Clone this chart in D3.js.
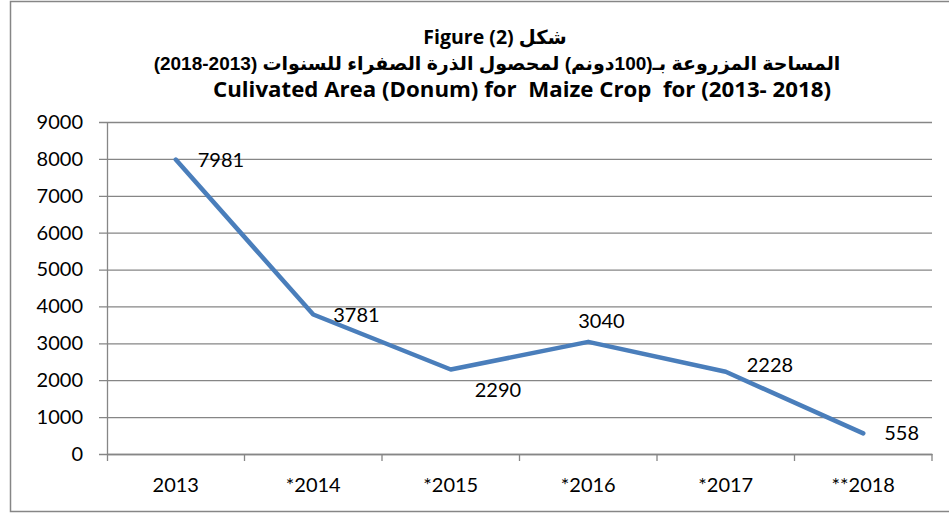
<!DOCTYPE html>
<html>
<head>
<meta charset="utf-8">
<script src="https://cdn.jsdelivr.net/npm/d3@7"></script>
<style>
  body { margin: 0; background: #fff; }
  svg { display: block; }
</style>
</head>
<body>
<div id="chart"></div>
<script>
// data
var years = ["2013", "*2014", "*2015", "*2016", "*2017", "**2018"];
var area = [7981, 3781, 2290, 3040, 2228, 558];
var yTicks = [0, 1000, 2000, 3000, 4000, 5000, 6000, 7000, 8000, 9000];
var titleLines = [
  "شكل (2) Figure",
  "المساحة المزروعة بـ(100دونم) لمحصول الذرة الصفراء للسنوات (2013-2018)",
  "Culivated Area (Donum) for  Maize Crop  for (2013- 2018)"
];

// label nudges (excel labels were moved by hand)
var labelShift = [[22, 0], [20, 0], [24, 20], [-10, -21], [21, -7], [21, 0]];

var svgWidth = 949, svgHeight = 514;
var margin = {top: 122, right: 17, bottom: 60, left: 107};
var width = svgWidth - margin.left - margin.right,
    height = svgHeight - margin.top - margin.bottom;

var font = "Lato, 'Open Sans', sans-serif";
var grey = "#868686";

var svg = d3.select("#chart")
  .append("svg")
  .attr("width", svgWidth)
  .attr("height", svgHeight);

// chart frame
svg.append("rect")
  .attr("x", 10.5).attr("y", 1.5)
  .attr("width", 960).attr("height", 510)
  .attr("fill", "none")
  .attr("stroke", grey)
  .attr("stroke-width", 1.5);

var xScale = d3.scaleBand()
  .domain(years)
  .range([0, width]);

var yScale = d3.scaleLinear()
  .domain([0, 9000])
  .range([height, 0]);

var g = svg.append("g")
  .attr("transform", "translate(" + margin.left + "," + margin.top + ")");

// y axis with gridlines
var yAxis = g.append("g")
  .call(d3.axisLeft(yScale).tickValues(yTicks).tickFormat(d3.format("d"))
    .tickSize(-width).tickSizeOuter(0).tickPadding(24));
yAxis.select(".domain").remove();
yAxis.selectAll(".tick line")
  .attr("x1", -8)
  .attr("stroke", grey)
  .attr("stroke-width", 1.3);
yAxis.selectAll(".tick text")
  .attr("font-family", font)
  .attr("font-size", 20)
  .attr("fill", "#000");

// vertical axis line
g.append("line")
  .attr("x1", 0.5).attr("x2", 0.5)
  .attr("y1", yScale(9000)).attr("y2", height + 7)
  .attr("stroke", grey).attr("stroke-width", 1.3);

// x axis
var xAxis = g.append("g")
  .attr("transform", "translate(0," + height + ")")
  .call(d3.axisBottom(xScale).tickSize(0).tickPadding(24));
xAxis.select(".domain")
  .attr("stroke", grey).attr("stroke-width", 1.3);
xAxis.selectAll(".tick text")
  .attr("font-family", font)
  .attr("font-size", 20)
  .attr("fill", "#000");

// category separators
g.selectAll(".sep")
  .data(years)
  .enter()
  .append("line")
  .attr("class", "sep")
  .attr("x1", function(d) { return xScale(d) + xScale.bandwidth(); })
  .attr("x2", function(d) { return xScale(d) + xScale.bandwidth(); })
  .attr("y1", height)
  .attr("y2", height + 7)
  .attr("stroke", grey)
  .attr("stroke-width", 1.3);

var cx = function(d, i) { return xScale(years[i]) + xScale.bandwidth() / 2; };

var line = d3.line()
  .x(cx)
  .y(function(d) { return yScale(d); });

g.append("path")
  .datum(area)
  .attr("d", line)
  .attr("fill", "none")
  .attr("stroke", "#4A7EBB")
  .attr("stroke-width", 4.5)
  .attr("stroke-linejoin", "round")
  .attr("stroke-linecap", "round");

// value labels
g.selectAll(".val")
  .data(area)
  .enter()
  .append("text")
  .attr("class", "val")
  .attr("x", function(d, i) { return cx(d, i) + labelShift[i][0]; })
  .attr("y", function(d, i) { return yScale(d) + labelShift[i][1]; })
  .attr("dy", "0.35em")
  .attr("font-family", font)
  .attr("font-size", 20)
  .text(function(d) { return d; });

// titles
var titleY = [44, 70, 97];
var titleX = [495, 497, 522];
var titleFont = ["'Open Sans', 'DejaVu Sans', sans-serif",
                 "'Liberation Sans', 'DejaVu Sans', sans-serif",
                 "'Open Sans', sans-serif"];
var titleSize = [19.5, 19, 21];
svg.selectAll(".title")
  .data(titleLines)
  .enter()
  .append("text")
  .attr("class", "title")
  .attr("x", function(d, i) { return titleX[i]; })
  .attr("y", function(d, i) { return titleY[i]; })
  .attr("text-anchor", "middle")
  .attr("direction", function(d, i) { return i == 2 ? "ltr" : "rtl"; })
  .attr("font-family", function(d, i) { return titleFont[i]; })
  .attr("font-weight", "bold")
  .attr("font-size", function(d, i) { return titleSize[i]; })
  .style("white-space", "pre")
  .text(function(d) { return d; });

svg.selectAll(".title")
  .filter(function(d, i) { return i == 2; })
  .attr("textLength", 618)
  .attr("lengthAdjust", "spacingAndGlyphs");
</script>
</body>
</html>
